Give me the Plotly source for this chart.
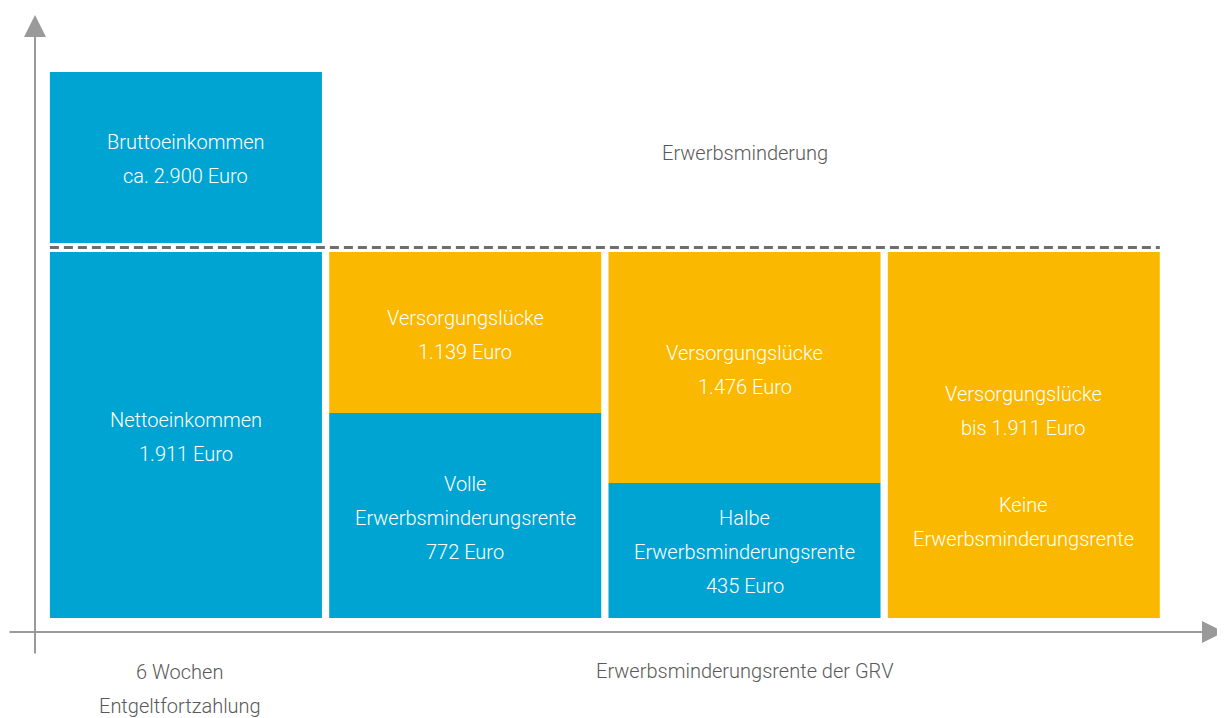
import plotly.graph_objects as go

# Spalten (0 = Lohnfortzahlung, 1-3 = Erwerbsminderungsrente)
spalten = [0, 1, 2, 3]

# Darstellungshöhen der Balken (aus dem Bild abgeschätzt, nicht maßstabsgetreu zu den Euro-Werten)
hoehe_blau = [1911, 1070, 705, 0]
hoehe_gelb = [0, 841, 1206, 1911]
brutto_basis = 1958
brutto_hoehe = 893

# Beschriftungen
text_blau = [["Nettoeinkommen", "1.911 Euro"],
             ["Volle", "Erwerbsminderungsrente", "772 Euro"],
             ["Halbe", "Erwerbsminderungsrente", "435 Euro"],
             []]
text_gelb = [[],
             ["Versorgungslücke", "1.139 Euro"],
             ["Versorgungslücke", "1.476 Euro"],
             ["Versorgungslücke", "bis 1.911 Euro"]]
text_keine = ["Keine", "Erwerbsminderungsrente"]
text_brutto = ["Bruttoeinkommen", "ca. 2.900 Euro"]
text_oben = ["Erwerbsminderung"]
text_unten_links = ["6 Wochen", "Entgeltfortzahlung"]
text_unten_mitte = ["Erwerbsminderungsrente der GRV"]

BLAU = "#00A4D3"
GELB = "#FAB900"
GRAU = "#9A9A9A"
TEXTGRAU = "#595959"
FONT = "Roboto, Lato, sans-serif"
GROESSE = 20
ZEILE = 34
breite = 0.974
W, H = 1225, 718
RAND = 8  # Seitenrand des Browsers

fig = go.Figure()
fig.add_trace(go.Bar(x=spalten, y=hoehe_blau, width=breite, marker=dict(color=BLAU, line=dict(width=0)),
                     hoverinfo="skip"))
fig.add_trace(go.Bar(x=spalten, y=hoehe_gelb, base=hoehe_blau, width=breite,
                     marker=dict(color=GELB, line=dict(width=0)), hoverinfo="skip"))
fig.add_trace(go.Bar(x=[0], y=[brutto_hoehe], base=[brutto_basis], width=breite,
                     marker=dict(color=BLAU, line=dict(width=0)), hoverinfo="skip"))

ann = []


def label(x, y, zeilen, farbe="white", dy=2, xshift=0, yref="y"):
    n = len(zeilen)
    for k, z in enumerate(zeilen):
        off = dy + (k - (n - 1) / 2) * ZEILE
        ann.append(dict(x=x, y=y, xref="x", yref=yref, text=z, showarrow=False,
                        xanchor="center", yanchor="middle",
                        xshift=xshift, yshift=-off,
                        font=dict(family=FONT, size=GROESSE, color=farbe, weight=300)))


for i in spalten:
    if text_blau[i]:
        label(i, hoehe_blau[i] / 2, text_blau[i])
    if text_gelb[i]:
        dy = -24 if i == 3 else 2.5
        label(i, hoehe_blau[i] + hoehe_gelb[i] / 2, text_gelb[i], dy=dy)
# Spalte 4: zweite Beschriftung
label(3, hoehe_gelb[3] / 2, text_keine, dy=87)
label(0, brutto_basis + brutto_hoehe / 2, text_brutto, dy=2)
label(2, brutto_basis + brutto_hoehe / 2, text_oben, farbe=TEXTGRAU, dy=-4.5)
# Beschriftungen unter der Achse
label(0, 1 - (688.5 - RAND) / H, text_unten_links, farbe=TEXTGRAU, dy=0, xshift=-6, yref="paper")
label(2, 1 - (671 - RAND) / H, text_unten_mitte, farbe=TEXTGRAU, dy=0, yref="paper")

# Achsenpfeile
ann.append(dict(xref="paper", yref="paper", x=(35 - RAND) / W, y=1 - (15 - RAND) / H, ax=0, ay=640,
                showarrow=True, arrowhead=2, arrowsize=2.2, arrowwidth=2, arrowcolor=GRAU, text=""))
ann.append(dict(xref="paper", yref="paper", x=(1224 - RAND) / W, y=1 - (632 - RAND) / H, ax=-1216, ay=0,
                showarrow=True, arrowhead=2, arrowsize=2.2, arrowwidth=2, arrowcolor=GRAU, text=""))

fig.update_layout(
    width=W, height=H,
    margin=dict(l=0, r=0, t=0, b=0),
    paper_bgcolor="white", plot_bgcolor="white",
    barmode="overlay", showlegend=False,
    xaxis=dict(range=[-0.637, 3.749], visible=False, fixedrange=True),
    yaxis=dict(range=[-564, 3185], visible=False, fixedrange=True),
    annotations=ann,
    shapes=[dict(type="line", xref="x", yref="y",
                 x0=spalten[0] - breite / 2, x1=spalten[-1] + breite / 2,
                 y0=(hoehe_blau[0] + brutto_basis) / 2, y1=(hoehe_blau[0] + brutto_basis) / 2,
                 line=dict(color="#6E6E6E", width=3, dash="9px,5px"))],
)

fig.write_html("out.html", config={"displayModeBar": False})
